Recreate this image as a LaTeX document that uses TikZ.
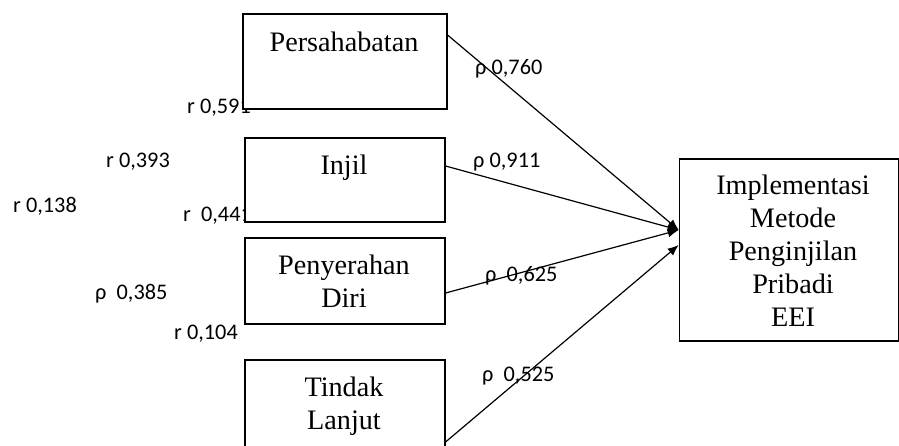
\documentclass[tikz,border=0pt]{standalone}
\usepackage{fontspec}
\setmainfont{Liberation Serif}
\newfontfamily\labfont{Carlito}
\usetikzlibrary{arrows.meta}
\begin{document}
\begin{tikzpicture}[x=1pt,y=-1pt,
  boxstyle/.style={draw=black,line width=1.1pt,fill=white,rectangle,inner sep=0pt},
  txt/.style={font=\fontsize{28.2}{33}\selectfont,align=center,inner sep=0pt},
  lab/.style={font=\labfont\fontsize{22.3}{24}\selectfont,inner sep=0pt,anchor=base west},
  conn/.style={line width=1.2pt,-{Latex[length=11pt,width=9pt]}}]
\useasboundingbox (0,0) rectangle (899,446);
\begin{scope}
\clip (0,0) rectangle (899,446);
% left labels (drawn under boxes)
\node[lab] (l1) at (187,114) {r 0,591};
\node[lab] (l2) at (106,168) {r 0,393};
\node[lab] (l3) at (13,213) {r 0,138};
\node[lab] (l4) at (183,222) {r\ \ 0,441};
\node[lab] (l5) at (95,299) {ρ\ \ 0,385};
\node[lab] (l6) at (174,339) {r 0,104};
% boxes
\node[boxstyle,minimum width=204pt,minimum height=95pt] (b1) at (345,61.5) {};
\node[boxstyle,minimum width=200pt,minimum height=84pt] (b2) at (345,180) {};
\node[boxstyle,minimum width=200pt,minimum height=86pt] (b3) at (345,281) {};
\node[boxstyle,minimum width=200pt,minimum height=100pt] (b4) at (345,410) {};
\node[boxstyle,minimum width=219.5pt,minimum height=182pt] (bt) at (789,250) {};
% texts
\node[txt,anchor=base] (t1) at (344,52) {Persahabatan};
\node[txt,anchor=base] (t2) at (344,175) {Injil};
\node[txt] (t3) at (344,281.5) {Penyerahan\\Diri};
\node[txt] (t4) at (344,406) {Tindak\\Lanjut};
\node[txt] (tt) at (793,251) {Implementasi\\Metode\\Penginjilan\\Pribadi\\EEI};
% connectors
\coordinate (s1) at (b1.east |- 0,35);
\coordinate (s2) at (b2.east |- 0,166);
\coordinate (s3) at (b3.east |- 0,293);
\coordinate (s4) at (b4.east |- 0,442);
\coordinate (e1) at (bt.west |- 0,230);
\coordinate (e2) at (bt.west |- 0,245);
\draw[conn] (s1) -- (e1);
\draw[conn] (s2) -- (e1);
\draw[conn] (s3) -- (e1);
\draw[conn] (s4) -- (e2);
% right labels
\node[lab] (r1) at (475,75) {ρ 0,760};
\node[lab] (r2) at (473,168) {ρ 0,911};
\node[lab] (r3) at (485,282) {ρ\ \ 0,625};
\node[lab] (r4) at (482,381) {ρ\ \ 0,525};
\end{scope}
\end{tikzpicture}
\end{document}
